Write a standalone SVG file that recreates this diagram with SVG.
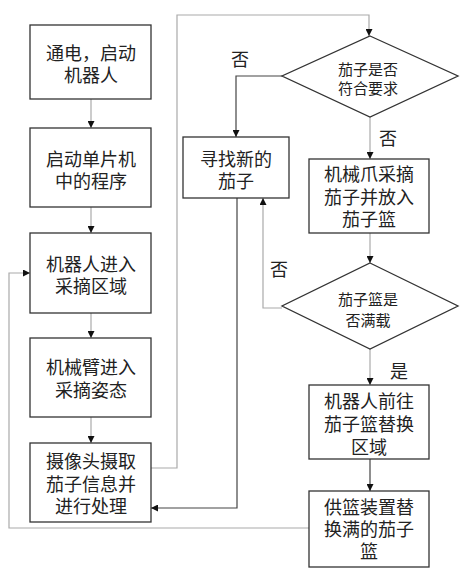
<svg xmlns="http://www.w3.org/2000/svg" width="472" height="580" viewBox="0 0 472 580">
<defs>
<marker id="ah" viewBox="0 0 8 8" refX="8" refY="4" markerWidth="7" markerHeight="7" markerUnits="userSpaceOnUse" orient="auto">
<path d="M0,0 L8,4 L0,8 Z" fill="#111"/>
</marker>
</defs>
<style>
.box{fill:#fff;stroke:#333;stroke-width:1.3}
.t{font-family:"Liberation Sans","Noto Sans CJK SC",sans-serif;font-size:18px;fill:#222;text-anchor:middle}
.td{font-family:"Liberation Sans","Noto Sans CJK SC",sans-serif;font-size:15px;fill:#222;text-anchor:middle}
.c{fill:none;stroke:#aaa;stroke-width:1.2}
.cd{fill:none;stroke:#444;stroke-width:1.2}
</style>
<rect width="472" height="580" fill="#fff"/>
<g id="connectors">
<path class="c" d="M91,99 V128" marker-end="url(#ah)"/>
<path class="c" d="M91,207 V233" marker-end="url(#ah)"/>
<path class="c" d="M91,313 V338" marker-end="url(#ah)"/>
<path class="c" d="M91,417 V443" marker-end="url(#ah)"/>
<path class="c" d="M151,468 H177 V15 H369 V36" marker-end="url(#ah)"/>
<path class="cd" d="M282,76 H236 V137" marker-end="url(#ah)"/>
<path class="c" d="M370,117 V159" marker-end="url(#ah)"/>
<path class="c" d="M370,233 V263" marker-end="url(#ah)"/>
<path class="c" d="M282,308 H263 V198" marker-end="url(#ah)"/>
<path class="c" d="M370,349 V385" marker-end="url(#ah)"/>
<path class="cd" d="M370,459 V491" marker-end="url(#ah)"/>
<path class="cd" d="M237,198 V508 H151" marker-end="url(#ah)"/>
<path class="c" d="M309,528 H9 V273 H30" marker-end="url(#ah)"/>
<text class="t" x="240" y="66">否</text>
<text class="t" x="388" y="145">否</text>
<text class="t" x="279" y="276">否</text>
<text class="t" x="399" y="378">是</text>
</g>
<g id="n1"><rect class="box" x="30" y="25" width="121" height="74"/><text class="t" x="91" y="60">通电，启动</text><text class="t" x="91" y="82">机器人</text></g>
<g id="n2"><rect class="box" x="30" y="128" width="121" height="79"/><text class="t" x="91" y="166">启动单片机</text><text class="t" x="91" y="188">中的程序</text></g>
<g id="n3"><rect class="box" x="30" y="233" width="121" height="80"/><text class="t" x="91" y="271">机器人进入</text><text class="t" x="91" y="293">采摘区域</text></g>
<g id="n4"><rect class="box" x="30" y="338" width="121" height="79"/><text class="t" x="91" y="374">机械臂进入</text><text class="t" x="91" y="397">采摘姿态</text></g>
<g id="n5"><rect class="box" x="30" y="443" width="121" height="79"/><text class="t" x="91" y="468">摄像头摄取</text><text class="t" x="91" y="491">茄子信息并</text><text class="t" x="91" y="513">进行处理</text></g>
<g id="d1"><path class="box" d="M370,36 L458,76 L370,117 L282,76 Z"/><text class="td" x="368" y="75">茄子是否</text><text class="td" x="368" y="94">符合要求</text></g>
<g id="n6"><rect class="box" x="183" y="137" width="106" height="61"/><text class="t" x="236" y="166">寻找新的</text><text class="t" x="236" y="188">茄子</text></g>
<g id="n7"><rect class="box" x="309" y="159" width="120" height="74"/><text class="t" x="369" y="181">机械爪采摘</text><text class="t" x="369" y="204">茄子并放入</text><text class="t" x="369" y="226">茄子篮</text></g>
<g id="d2"><path class="box" d="M370,263 L458,306 L370,349 L282,306 Z"/><text class="td" x="368" y="305">茄子篮是</text><text class="td" x="368" y="326">否满载</text></g>
<g id="n8"><rect class="box" x="309" y="385" width="120" height="74"/><text class="t" x="369" y="408">机器人前往</text><text class="t" x="369" y="431">茄子篮替换</text><text class="t" x="369" y="454">区域</text></g>
<g id="n9"><rect class="box" x="309" y="491" width="120" height="76"/><text class="t" x="369" y="514">供篮装置替</text><text class="t" x="369" y="536">换满的茄子</text><text class="t" x="369" y="558">篮</text></g>
</svg>
